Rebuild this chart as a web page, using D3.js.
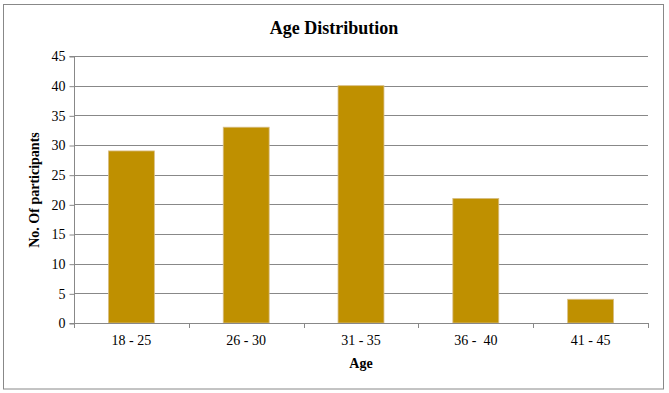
<!DOCTYPE html>
<html><head><meta charset="utf-8">
<script src="https://cdn.jsdelivr.net/npm/d3@7"></script>
<style>body{margin:0;background:#fff}svg{display:block}text{font-family:'Liberation Serif','Times New Roman',serif}</style>
</head><body>
<svg id="c" width="669" height="393"></svg>
<script>
const categories = ["18 - 25", "26 - 30", "31 - 35", "36 -  40", "41 - 45"];
const values = [29, 33, 40, 21, 4];
const yTicks = [0, 5, 10, 15, 20, 25, 30, 35, 40, 45];
const title = "Age Distribution";
const xTitle = "Age";
const yTitle = "No. Of participants";

const svg = d3.select("#c");
const font = "'Liberation Serif', 'Times New Roman', serif";
const m = {left: 74, right: 648, top: 56, bottom: 323};

svg.append("rect").attr("x", 3.5).attr("y", 4.5).attr("width", 660).attr("height", 384.5)
  .attr("fill", "#fff").attr("stroke", "#888").attr("stroke-width", 1);

const x = d3.scaleBand().domain(categories).range([m.left, m.right]).paddingInner(0.6).paddingOuter(0.3);
const xb = d3.scaleBand().domain(categories).range([m.left, m.right]);
const y = d3.scaleLinear().domain([0, 45]).range([m.bottom, m.top]);

// gridlines
svg.append("g").selectAll("line").data(yTicks.filter(d => d > 0)).join("line")
  .attr("x1", m.left).attr("x2", m.right)
  .attr("y1", d => Math.round(y(d)) + 0.5).attr("y2", d => Math.round(y(d)) + 0.5)
  .attr("stroke", "#888").attr("stroke-width", 1);

// bars
svg.append("g").selectAll("rect").data(values).join("rect")
  .attr("x", (d, i) => x(categories[i]))
  .attr("width", x.bandwidth())
  .attr("y", d => y(d))
  .attr("height", d => y(0) - y(d))
  .attr("fill", "#BF9000").attr("stroke", "#D8BE86").attr("stroke-width", 0.8);

// y axis
const yAxis = d3.axisLeft(y).tickValues(yTicks).tickSize(5).tickPadding(4);
const gy = svg.append("g").attr("transform", `translate(${m.left + 0.5},0.5)`).call(yAxis)
  .attr("font-family", null).attr("font-size", null);
gy.select(".domain").attr("stroke", "#888").attr("d", `M-5,${y(0)}H0V${y(45)}H-5`);
gy.selectAll(".tick line").attr("stroke", "#888");
gy.selectAll(".tick text").style("font-family", font).style("font-size", "14px").attr("fill", "#000");

// x axis
const xAxis = d3.axisBottom(xb).tickSize(0).tickPadding(12);
const gx = svg.append("g").attr("transform", `translate(0,${m.bottom + 0.5})`).call(xAxis)
  .attr("font-family", null).attr("font-size", null);
gx.select(".domain").attr("stroke", "#888").attr("d", `M${m.left},0H${m.right}`);
gx.selectAll(".tick text").style("font-family", font).style("font-size", "14px").attr("fill", "#000").style("white-space", "pre");
// category boundary ticks
svg.append("g").selectAll("line").data(categories.concat(["end"])).join("line")
  .attr("x1", (d, i) => Math.round(m.left + i * xb.step()) + 0.5)
  .attr("x2", (d, i) => Math.round(m.left + i * xb.step()) + 0.5)
  .attr("y1", m.bottom).attr("y2", m.bottom + 5)
  .attr("stroke", "#888");

svg.append("text").attr("x", 334).attr("y", 34).attr("text-anchor", "middle")
  .style("font-family", font).attr("font-weight", "bold").style("font-size", "18px").text(title);
svg.append("text").attr("x", 361).attr("y", 368).attr("text-anchor", "middle")
  .style("font-family", font).attr("font-weight", "bold").style("font-size", "14px").text(xTitle);
svg.append("text").attr("transform", "translate(39,190) rotate(-90)").attr("text-anchor", "middle")
  .style("font-family", font).attr("font-weight", "bold").style("font-size", "14px").text(yTitle);
</script>
</body></html>
